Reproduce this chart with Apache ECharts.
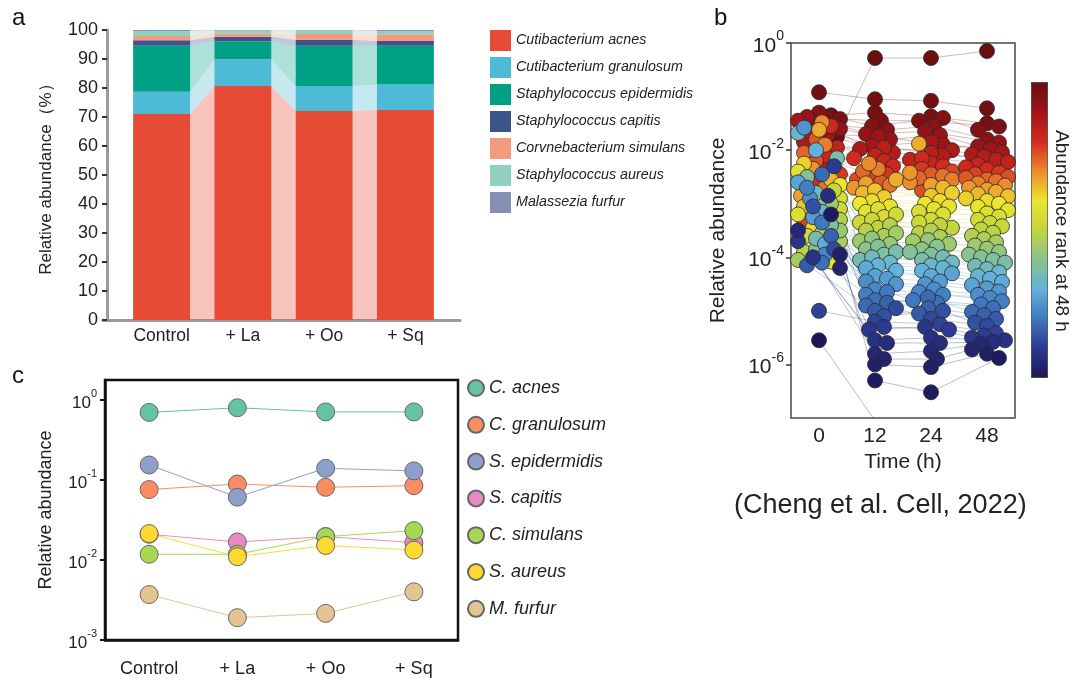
<!DOCTYPE html>
<html>
<head>
<meta charset="utf-8">
<script src="https://cdn.jsdelivr.net/npm/echarts@6/dist/echarts.min.js"></script>
<style>
  html, body { margin: 0; padding: 0; background: #fff; }
  #chart { width: 1075px; height: 680px; }
</style>
</head>
<body>
<div id="chart"></div>
<script>
// ---- panel a / c : community composition ----
const groups = ["Control", "+ La", "+ Oo", "+ Sq"];
const taxa = ["Cutibacterium acnes", "Cutibacterium granulosum", "Staphylococcus epidermidis",
  "Staphylococcus capitis", "Corvnebacterium simulans", "Staphylococcus aureus", "Malassezia furfur"];
const taxaShort = ["C. acnes", "C. granulosum", "S. epidermidis", "S. capitis", "C. simulans", "S. aureus", "M. furfur"];

// relative abundance (%) stacked in panel a
const acnesPct = [71.0, 80.7, 72.1, 72.4];
const granulosumPct = [7.7, 9.2, 8.6, 8.8];
const epidermidisPct = [15.9, 6.1, 13.9, 13.4];
const capitisPct = [1.9, 1.7, 2.0, 1.6];
const simulansPct = [1.4, 1.1, 2.0, 2.3];
const aureusPct = [1.7, 1.0, 1.2, 1.1];
const furfurPct = [0.4, 0.2, 0.2, 0.4];

// relative abundance (fraction) in panel c
const acnesRel = [0.70, 0.80, 0.71, 0.71];
const granulosumRel = [0.076, 0.089, 0.081, 0.085];
const epidermidisRel = [0.154, 0.061, 0.140, 0.130];
const capitisRel = [0.021, 0.0168, 0.0196, 0.0165];
const simulansRel = [0.0118, 0.0118, 0.0196, 0.0233];
const aureusRel = [0.0214, 0.0110, 0.0152, 0.0133];
const furfurRel = [0.0037, 0.0019, 0.00215, 0.0040];

// ---- panel b : log10 relative abundance per species, sorted by abundance at 48 h ----
const hours = ["0", "12", "24", "48"];
const log0h = [-1.75, -0.92, -1.35, -1.42, -1.30, -1.50, -1.60, -1.38, -1.70, -1.45,
  -1.85, -1.65, -2.30, -1.95, -2.10, -1.55, -2.60, -2.45, -3.36, -2.20,
  -1.80, -2.05, -2.70, -1.90, -1.48, -2.35, -2.85, -1.62, -2.55, -3.05,
  -2.25, -3.45, -2.65, -4.08, -2.40, -3.20, -2.90, -3.60, -3.10, -2.75,
  -3.55, -3.90, -3.30, -3.70, -4.05, -3.00, -3.50, -2.95, -3.85, -2.50,
  -3.40, -2.15, -3.65, -2.80, -1.68, -3.15, -2.00, -3.75, -2.60, -3.25,
  -1.58, -2.90, -3.95, -2.70, -3.35, -4.10, -2.45, -3.60, -4.15, -3.05,
  -3.85, -5.00, -2.30, -3.70, -4.00, -2.85, -3.50, -4.20, -3.95, -3.20, -5.55];
const log12h = [-0.28, -1.05, -1.30, -1.45, -1.55, -1.62, -1.70, -1.80, -1.75, -1.92,
  -1.98, -2.05, -1.95, -2.10, -2.20, -2.30, -2.15, -2.45, -2.50, -2.55,
  -2.60, -2.40, -2.65, -2.35, -2.25, -2.70, -2.62, -2.55, -2.80, -2.75,
  -2.88, -2.95, -3.00, -3.05, -3.15, -3.10, -3.25, -3.20, -3.35, -3.30,
  -3.45, -3.50, -3.40, -3.60, -3.55, -3.70, -3.75, -3.65, -3.85, -3.80,
  -3.95, -3.90, -4.05, -4.00, -4.10, -4.15, -4.25, -4.20, -4.35, -4.40,
  -4.50, -4.45, -4.60, -4.70, -4.65, -4.80, -4.90, -4.85, -5.00, -5.10,
  -4.95, -5.20, -5.30, -5.35, -5.55, -5.60, -5.80, -5.90, -6.00, -6.30, -7.05];
const log24h = [-0.28, -1.08, -1.37, -1.45, -1.40, -1.55, -1.65, -1.72, -1.90, -1.85,
  -2.00, -2.10, -2.05, -2.18, -2.25, -2.15, -2.30, -2.35, -2.40, -2.75,
  -2.45, -2.52, -2.48, -2.55, -2.60, -2.42, -2.65, -1.88, -2.70, -2.85,
  -2.80, -2.95, -3.00, -3.05, -3.10, -3.20, -3.15, -3.30, -3.35, -3.45,
  -3.40, -3.55, -3.50, -3.62, -3.70, -3.75, -3.68, -3.85, -3.80, -3.90,
  -3.95, -4.05, -4.00, -4.10, -4.15, -4.20, -4.25, -4.35, -4.30, -4.45,
  -4.50, -4.60, -4.65, -4.70, -4.80, -4.85, -4.75, -4.95, -5.05, -5.00,
  -5.15, -5.25, -5.35, -5.30, -5.50, -5.60, -5.75, -5.90, -6.05, -6.52, -8.00];
const log48h = [-0.15, -1.22, -1.50, -1.56, -1.62, -1.80, -1.86, -1.93, -1.98, -2.04,
  -2.08, -2.12, -2.18, -2.22, -2.27, -2.32, -2.36, -2.42, -2.45, -2.50,
  -2.52, -2.55, -2.58, -2.62, -2.66, -2.70, -2.74, -2.78, -2.82, -2.86,
  -2.90, -2.95, -3.00, -3.06, -3.12, -3.18, -3.24, -3.30, -3.36, -3.42,
  -3.48, -3.54, -3.60, -3.66, -3.72, -3.78, -3.84, -3.90, -3.95, -4.00,
  -4.05, -4.10, -4.16, -4.22, -4.28, -4.35, -4.40, -4.46, -4.52, -4.58,
  -4.64, -4.70, -4.76, -4.82, -4.88, -4.95, -5.02, -5.08, -5.15, -5.22,
  -5.28, -5.42, -5.46, -5.50, -5.55, -5.58, -5.62, -5.72, -5.80, -5.88, -8.00];

const logTicksB = [1e-6, 1e-4, 1e-2, 1];
const logTicksC = [1e-3, 1e-2, 1e-1, 1];

const taxaColors = ["#e64b35", "#4dbbd5", "#00a087", "#3c5488", "#f39b7f", "#91d1c2", "#8491b4"];
const set2 = ["#66c2a5", "#fc8d62", "#8da0cb", "#e78ac3", "#a6d854", "#ffd92f", "#e5c494"];
const rankColors = ["#1c1858", "#2c3a92", "#3f78c0", "#62b2dc", "#88c48c", "#c2d43c",
  "#ece62c", "#ec8a2c", "#d42a1e", "#a01418", "#6a0e10"];

const FONT = "'Liberation Sans', Arial, sans-serif";
const BAR_W = 57;

const pctSeries = [acnesPct, granulosumPct, epidermidisPct, capitisPct, simulansPct, aureusPct, furfurPct];
const relSeries = [acnesRel, granulosumRel, epidermidisRel, capitisRel, simulansRel, aureusRel, furfurRel];
const logSeries = [log0h, log12h, log24h, log48h];

// ribbons between neighbouring stacked bars
const ribbons = [];
for (let g = 0; g < groups.length - 1; g++) {
  let lo = 0, ro = 0;
  pctSeries.forEach((arr, s) => {
    ribbons.push([g, lo, lo + arr[g], ro, ro + arr[g + 1], s]);
    lo += arr[g];
    ro += arr[g + 1];
  });
}

function hexRgb(h) { return [1, 3, 5].map(i => parseInt(h.slice(i, i + 2), 16)); }
function rankColor(t) {
  const n = rankColors.length - 1;
  const p = Math.min(n, Math.max(0, t * n));
  const i = Math.min(n - 1, Math.floor(p)), f = p - i;
  const a = hexRgb(rankColors[i]), b = hexRgb(rankColors[i + 1]);
  return `rgb(${a.map((v, k) => Math.round(v + (b[k] - v) * f)).join(",")})`;
}

const nSp = log48h.length;
const rankValue = log48h.map((_, i) => nSp - 1 - i);

function swarmPoints(offsets) {
  const pts = [];
  logSeries.forEach((arr, c) => arr.forEach((v, i) => {
    pts.push([c + (offsets ? offsets[c][i] : 0), Math.pow(10, v), rankValue[i], i]);
  }));
  return pts;
}
function linkLines(offsets) {
  return log48h.map((_, i) => ({
    coords: logSeries.map((arr, c) => [c + (offsets ? offsets[c][i] : 0), Math.pow(10, arr[i])]),
    lineStyle: { color: rankColor(rankValue[i] / (nSp - 1)) }
  }));
}

const powLabel = size => ({
  formatter: v => "{b|10}{s|" + Math.round(Math.log10(v)) + "}",
  rich: {
    b: { fontSize: size, color: "#222", fontFamily: FONT, lineHeight: size + 6, verticalAlign: "bottom" },
    s: { fontSize: Math.round(size * 0.65), color: "#222", fontFamily: FONT, lineHeight: size + 6, verticalAlign: "top" }
  }
});

const chart = echarts.init(document.getElementById("chart"), null, { renderer: "canvas" });

const option = {
  animation: false,
  textStyle: { fontFamily: FONT },
  grid: [
    { left: 121, top: 30, width: 325, height: 290 },
    { left: 103, top: 30, width: 357, height: 290 },
    { left: 791, top: 43, width: 224, height: 375, show: true, borderColor: "#4a4a4a", borderWidth: 1.5 },
    { left: 105, top: 380, width: 353, height: 260, show: true, borderColor: "#111", borderWidth: 2.5 }
  ],
  xAxis: [
    { type: "category", gridIndex: 0, data: groups, axisLine: { show: false }, axisTick: { show: false },
      axisLabel: { fontSize: 17.5, color: "#222", margin: 7 } },
    { type: "value", gridIndex: 1, min: 0, max: 1, axisLine: { show: true, lineStyle: { color: "#9a9a9a", width: 3 } },
      axisTick: { show: false }, axisLabel: { show: false }, splitLine: { show: false } },
    { type: "category", gridIndex: 2, data: hours, boundaryGap: true, axisLine: { show: false }, axisTick: { show: false },
      axisLabel: { fontSize: 21, color: "#222", margin: 8 },
      name: "Time (h)", nameLocation: "middle", nameGap: 32, nameTextStyle: { fontSize: 21, color: "#222" } },
    { type: "value", gridIndex: 2, min: -0.5, max: 3.5, show: false },
    { type: "category", gridIndex: 3, data: groups, axisLine: { lineStyle: { color: "#111", width: 2.5 } },
      axisTick: { alignWithLabel: true, length: 10, lineStyle: { color: "#111", width: 3 } },
      axisLabel: { fontSize: 18, color: "#222", margin: 20 } }
  ],
  yAxis: [
    { type: "value", gridIndex: 0, min: 0, max: 100, interval: 10, offset: 14,
      axisLine: { show: true, lineStyle: { color: "#9a9a9a", width: 3 } },
      axisTick: { show: true, length: 5, lineStyle: { color: "#333", width: 2 } },
      axisLabel: { fontSize: 18, color: "#222", margin: 9 }, splitLine: { show: false },
      name: "Relative abundance（%）", nameLocation: "middle", nameGap: 52,
      nameTextStyle: { fontSize: 17, color: "#222" } },
    { type: "value", gridIndex: 1, show: false },
    { type: "log", gridIndex: 2, logBase: 10, min: 1e-7, max: 1,
      axisLine: { show: false, onZero: false },
      axisTick: { show: true, length: 5, customValues: logTicksB, lineStyle: { color: "#333", width: 1.5 } },
      axisLabel: Object.assign({ margin: 7, customValues: logTicksB }, powLabel(21)),
      splitLine: { show: false }, minorTick: { show: false },
      name: "Relative abundance", nameLocation: "middle", nameGap: 62,
      nameTextStyle: { fontSize: 21, color: "#222" } },
    { type: "log", gridIndex: 3, logBase: 10, min: 1e-3, max: Math.pow(10, 0.25),
      axisLine: { show: true, onZero: false, lineStyle: { color: "#111", width: 2.5 } },
      axisTick: { show: true, length: 5, customValues: logTicksC, lineStyle: { color: "#111", width: 2 } },
      axisLabel: Object.assign({ margin: 8, customValues: logTicksC }, powLabel(17)),
      splitLine: { show: false },
      name: "Relative abundance", nameLocation: "middle", nameGap: 50,
      nameTextStyle: { fontSize: 18, color: "#222" } }
  ],
  legend: [
    { data: taxa, orient: "vertical", left: 485, top: 25, icon: "rect", itemWidth: 21, itemHeight: 21, itemGap: 6,
      textStyle: { fontStyle: "italic", fontSize: 14.3, color: "#222", lineHeight: 21 } },
    { data: taxaShort, orient: "vertical", left: 462, top: 374, icon: "circle", itemWidth: 16, itemHeight: 16, itemGap: 18.8,
      itemStyle: { borderColor: "#666", borderWidth: 2 },
      textStyle: { fontStyle: "italic", fontSize: 18, color: "#222", lineHeight: 16 } }
  ],
  visualMap: {
    type: "continuous", seriesIndex: 9, dimension: 2, min: 0, max: nSp - 1,
    calculable: false, left: 1031, top: 82, itemWidth: 16, itemHeight: 295, padding: 0,
    borderColor: "#333", borderWidth: 1, text: null,
    inRange: { color: rankColors }
  },
  graphic: [
    { type: "text", left: 12, top: 6, style: { text: "a", fontSize: 24, fill: "#111", fontFamily: FONT } },
    { type: "text", left: 714, top: 6, style: { text: "b", fontSize: 24, fill: "#111", fontFamily: FONT } },
    { type: "text", left: 12, top: 364, style: { text: "c", fontSize: 24, fill: "#111", fontFamily: FONT } },
    { type: "text", left: 734, top: 492, style: { text: "(Cheng et al. Cell, 2022)", fontSize: 27, fill: "#222", fontFamily: FONT } },
    { type: "text", x: 1061, y: 231, rotation: -Math.PI / 2,
      style: { text: "Abundance rank at 48 h", fontSize: 19, fill: "#222", fontFamily: FONT, align: "center", verticalAlign: "middle" } }
  ],
  series: [
    ...pctSeries.map((arr, s) => ({
      name: taxa[s], type: "bar", stack: "a", xAxisIndex: 0, yAxisIndex: 0, barWidth: BAR_W,
      itemStyle: { color: taxaColors[s] }, data: arr
    })),
    {
      type: "custom", xAxisIndex: 0, yAxisIndex: 0, data: ribbons, encode: { x: 0, y: [1, 2, 3, 4] }, silent: true,
      renderItem: (params, api) => {
        const g = api.value(0), s = api.value(5), half = BAR_W / 2;
        const l0 = api.coord([g, api.value(1)]), l1 = api.coord([g, api.value(2)]);
        const r0 = api.coord([g + 1, api.value(3)]), r1 = api.coord([g + 1, api.value(4)]);
        return {
          type: "polygon",
          shape: { points: [[l0[0] + half, l0[1]], [r0[0] - half, r0[1]], [r1[0] - half, r1[1]], [l1[0] + half, l1[1]]] },
          style: { fill: taxaColors[s], opacity: 0.32 }
        };
      }
    },
    {
      id: "links", type: "lines", coordinateSystem: "cartesian2d", xAxisIndex: 3, yAxisIndex: 2, polyline: true,
      clip: true, silent: true, z: 1, lineStyle: { width: 1, opacity: 0.3 }, data: linkLines(null)
    },
    {
      id: "swarm", type: "scatter", xAxisIndex: 3, yAxisIndex: 2, symbolSize: 15, clip: true, z: 2,
      itemStyle: { borderColor: "#2a2a2a", borderWidth: 0.8, opacity: 1 }, data: swarmPoints(null)
    },
    ...relSeries.map((arr, s) => ({
      name: taxaShort[s], type: "line", xAxisIndex: 4, yAxisIndex: 3, data: arr,
      symbol: "circle", symbolSize: 18, color: set2[s],
      lineStyle: { width: 1, color: set2[s] },
      itemStyle: { color: set2[s], borderColor: "#666", borderWidth: 1 }
    }))
  ]
};

chart.setOption(option);

// beeswarm spreading of each time column, computed in pixels
function swarm(ys, minDist, maxOff, step) {
  const order = ys.map((_, i) => i).sort((a, b) => ys[a] - ys[b]);
  const placed = [], off = new Array(ys.length).fill(0);
  order.forEach(i => {
    let best = 0, bestD = -1;
    for (let k = 0; k <= (maxOff / step) * 2; k++) {
      const cand = (k % 2 ? 1 : -1) * Math.ceil(k / 2) * step;
      let d = Infinity;
      placed.forEach(p => { const dd = Math.hypot(p.x - cand, p.y - ys[i]); if (dd < d) d = dd; });
      if (d >= minDist) { best = cand; break; }
      if (d > bestD) { bestD = d; best = cand; }
    }
    off[i] = best;
    placed.push({ x: best, y: ys[i] });
  });
  return off;
}
const finder = { seriesId: "swarm" };
const unit = chart.convertToPixel(finder, [1, 1e-3])[0] - chart.convertToPixel(finder, [0, 1e-3])[0];
const offsets = logSeries.map((arr, c) => {
  const ys = arr.map(v => chart.convertToPixel(finder, [c, Math.pow(10, v)])[1]);
  return swarm(ys, 10, 22, 3).map(px => px / unit);
});
chart.setOption({ series: [{ id: "links", data: linkLines(offsets) }, { id: "swarm", data: swarmPoints(offsets) }] });
</script>
</body>
</html>
